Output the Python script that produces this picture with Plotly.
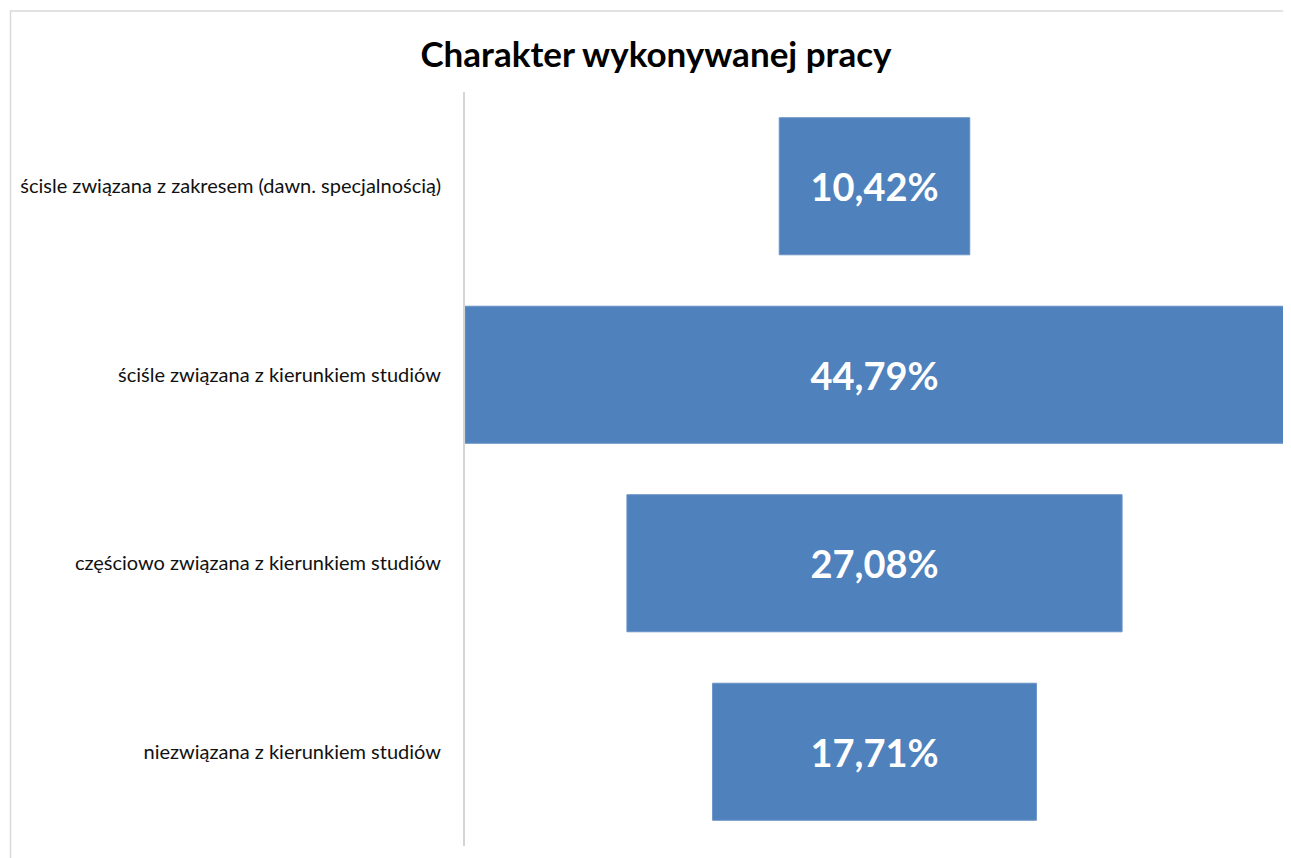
import plotly.graph_objects as go

categories = [
    "ścisle związana z zakresem (dawn. specjalnością)",
    "ściśle związana z kierunkiem studiów",
    "częściowo związana z kierunkiem studiów",
    "niezwiązana z kierunkiem studiów",
]
values = [10.42, 44.79, 27.08, 17.71]
title_text = "Charakter wykonywanej pracy"

# page has an 8px body offset; figure sized to fit the window
W, H = 1283, 850
L, R, T, B = 457, 7, 84, 12
pw = W - L - R
ph = H - T - B

half = max(values) / 2

fig = go.Figure(go.Funnel(
    y=categories,
    x=values,
    texttemplate="%{x:.2f}%",
    textposition="inside",
    insidetextanchor="middle",
    textangle=0,
    textfont=dict(family="Lato", size=38, color="white", weight="bold"),
    marker=dict(color="#4f81bd", line=dict(width=1, color="#6a93c8")),
    connector=dict(visible=False),
    hoverinfo="x+y",
))

fig.update_layout(
    width=W, height=H,
    separators=", ",
    margin=dict(l=L, r=R, t=T, b=B),
    paper_bgcolor="white",
    plot_bgcolor="white",
    funnelgap=0.273,
    showlegend=False,
    title=dict(
        text=title_text,
        x=648 / W, xref="container", xanchor="center",
        y=(H - 47) / H, yref="container", yanchor="middle",
        font=dict(family="Lato", size=35, color="black", weight="bold"),
    ),
    xaxis=dict(visible=False, range=[-half, half], fixedrange=True),
    yaxis=dict(
        showline=True, linecolor="#d4d4d4", linewidth=2,
        showgrid=False, zeroline=False, ticks="",
        ticklabelstandoff=18,
        tickfont=dict(family="Lato", size=20, color="#111111"),
    ),
    shapes=[
        dict(type="rect", xref="paper", yref="paper",
             x0=(2.5 - L) / pw, x1=(W + 20 - L) / pw,
             y0=-60 / ph, y1=(H - B - 3) / ph,
             line=dict(color="#d9d9d9", width=1.5), fillcolor="rgba(0,0,0,0)",
             layer="below"),
    ],
)

fig.write_html("out.html")
